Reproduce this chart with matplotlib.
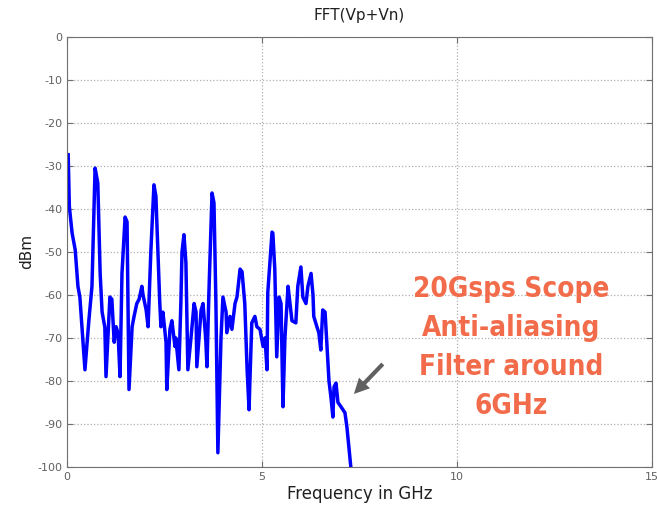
import matplotlib
matplotlib.use('Agg')
import matplotlib.pyplot as plt

plt.rcParams['axes.unicode_minus'] = False

# trace: frequency (GHz) and level (dBm)
freq = [0.03, 0.06, 0.13, 0.21, 0.28, 0.33, 0.46, 0.56, 0.64, 0.72,
        0.79, 0.85, 0.90, 0.97, 1.00, 1.10, 1.15, 1.21, 1.26, 1.31,
        1.36, 1.41, 1.49, 1.54, 1.59, 1.67, 1.72, 1.79, 1.85, 1.92,
        1.95, 2.03, 2.08, 2.15, 2.23, 2.28, 2.38, 2.41, 2.46, 2.54,
        2.56, 2.64, 2.69, 2.77, 2.79, 2.87, 2.92, 2.95, 3.00, 3.05,
        3.10, 3.18, 3.26, 3.31, 3.33, 3.44, 3.49, 3.56, 3.59, 3.64,
        3.72, 3.77, 3.82, 3.87, 3.95, 4.00, 4.08, 4.10, 4.18, 4.23,
        4.31, 4.36, 4.44, 4.49, 4.56, 4.62, 4.67, 4.69, 4.74, 4.82,
        4.87, 4.95, 5.03, 5.08, 5.13, 5.15, 5.26, 5.28, 5.33, 5.38,
        5.44, 5.49, 5.54, 5.59, 5.67, 5.72, 5.77, 5.87, 5.92, 6.00,
        6.05, 6.13, 6.18, 6.26, 6.31, 6.33, 6.41, 6.46, 6.51, 6.56,
        6.62, 6.67, 6.72, 6.77, 6.82, 6.85, 6.90, 6.95, 7.05, 7.13,
        7.18, 7.23, 7.28]
dbm = [-27.4, -39.5, -45.6, -49.5, -58.0, -60.5, -77.4, -66.0, -58.0, -30.5,
       -34.0, -55.0, -64.0, -67.5, -79.0, -60.5, -61.0, -71.0, -67.4, -69.0,
       -79.0, -55.0, -41.9, -43.0, -82.0, -67.4, -65.0, -62.0, -61.0, -58.0,
       -60.0, -63.5, -67.4, -50.0, -34.4, -37.0, -62.0, -67.4, -64.0, -71.0,
       -82.0, -68.0, -66.0, -72.0, -70.0, -77.4, -62.0, -50.0, -46.0, -52.5,
       -77.4, -70.0, -62.0, -64.0, -76.7, -63.5, -62.0, -70.5, -76.7, -59.5,
       -36.3, -38.6, -62.0, -96.7, -70.0, -60.5, -64.0, -68.8, -65.0, -68.0,
       -62.0, -60.5, -54.0, -54.6, -62.0, -77.4, -86.7, -80.5, -66.5, -65.0,
       -67.4, -68.0, -72.0, -70.0, -77.4, -59.5, -45.4, -45.6, -54.0, -74.4,
       -60.5, -62.0, -86.0, -70.0, -58.0, -62.0, -66.0, -66.5, -58.0, -53.5,
       -60.5, -62.0, -58.0, -55.0, -60.0, -65.0, -67.4, -68.8, -72.8, -63.5,
       -64.0, -72.0, -80.0, -83.7, -88.4, -81.4, -80.5, -85.0, -86.3, -87.4,
       -90.7, -95.3, -100.0]

xticks = [0, 5, 10, 15]
yticks = list(range(-100, 1, 10))
note = "20Gsps Scope\nAnti-aliasing\nFilter around\n6GHz"

fig = plt.figure(figsize=(6.57, 5.12), dpi=100)
ax = fig.add_axes([0.102, 0.088, 0.890, 0.840])

ax.plot(freq, dbm, color='#0000ff', lw=2.5)

ax.set_xlim(0, 15)
ax.set_ylim(-100, 0)
ax.set_xticks(xticks)
ax.set_yticks(yticks)
ax.grid(True, ls=':', color='#b0b0b0', lw=0.9)
ax.tick_params(direction='in', top=True, right=True, labelsize=8,
               labelcolor='#606060', color='#707070', length=4)
for sp in ax.spines.values():
    sp.set_color('#707070')

ax.set_title('FFT(Vp+Vn)', fontsize=11, color='#202020', pad=12)
ax.set_xlabel('Frequency in GHz', fontsize=12, color='#202020', labelpad=2)
ax.set_ylabel('dBm', fontsize=11, color='#202020', labelpad=2)

ax.text(11.4, -72.2, note, ha='center', va='center', fontsize=20,
        fontweight='bold', fontstretch='condensed', color='#f26b4a',
        linespacing=1.5, family=['DejaVu Sans'])
ax.annotate('', xy=(7.31, -83.5), xytext=(8.15, -75.6),
            arrowprops=dict(arrowstyle='simple,head_width=1.1,head_length=1.1,tail_width=0.3',
                            color='#606060', lw=0))

fig.savefig('out.png', dpi=100)
